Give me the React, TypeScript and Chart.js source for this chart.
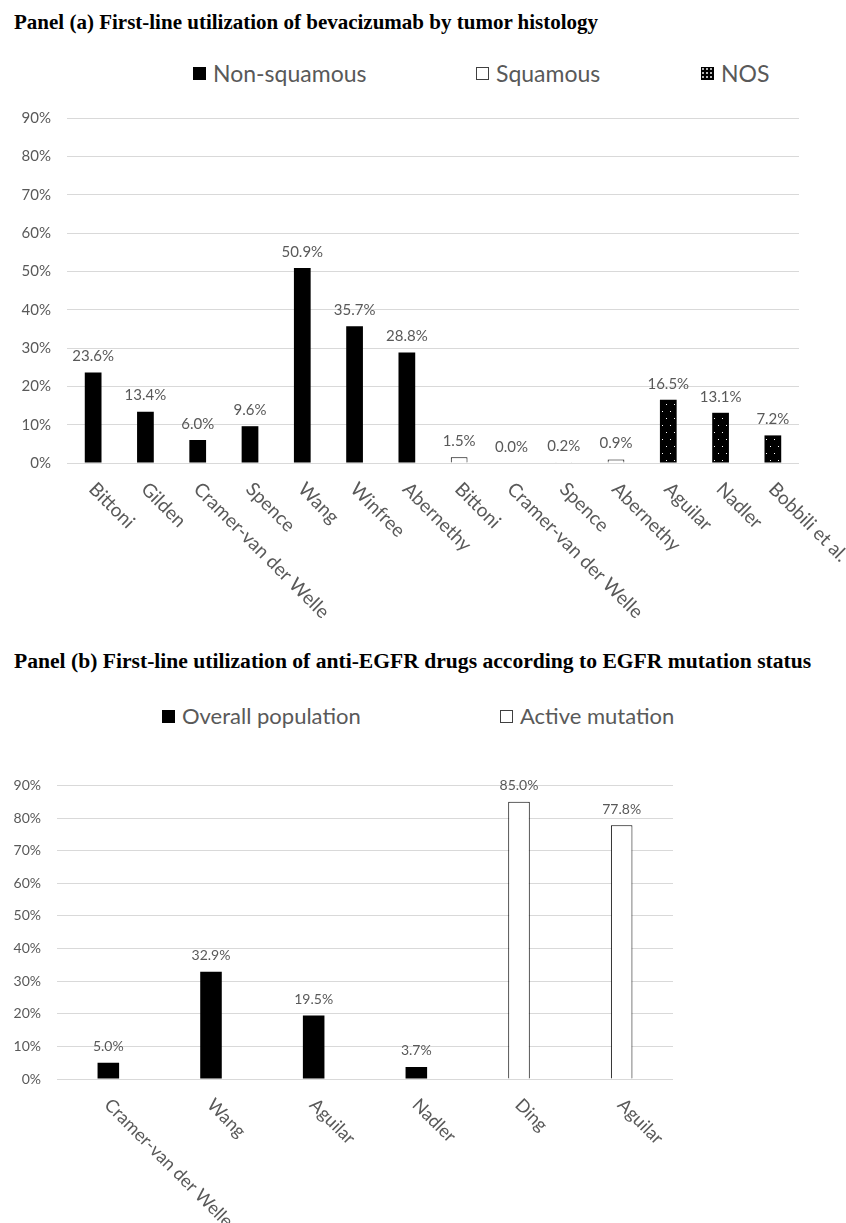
import React, { useEffect, useRef } from "react";
import { Chart, registerables } from "chart.js";
Chart.register(...registerables);

const titleA = "Panel (a) First-line utilization of bevacizumab by tumor histology";
const titleB = "Panel (b) First-line utilization of anti-EGFR drugs according to EGFR mutation status";

const aLabels = [
  "Bittoni", "Gilden", "Cramer-van der Welle", "Spence", "Wang", "Winfree", "Abernethy",
  "Bittoni", "Cramer-van der Welle", "Spence", "Abernethy",
  "Aguilar", "Nadler", "Bobbili et al.",
];
const aNonSquamous = [23.6, 13.4, 6.0, 9.6, 50.9, 35.7, 28.8, null, null, null, null, null, null, null];
const aSquamous = [null, null, null, null, null, null, null, 1.5, 0.0, 0.2, 0.9, null, null, null];
const aNOS = [null, null, null, null, null, null, null, null, null, null, null, 16.5, 13.1, 7.2];
const aLegend = ["Non-squamous", "Squamous", "NOS"];

const bLabels = ["Cramer-van der Welle", "Wang", "Aguilar", "Nadler", "Ding", "Aguilar"];
const bOverall = [5.0, 32.9, 19.5, 3.7, null, null];
const bActive = [null, null, null, null, 85.0, 77.8];
const bLegend = ["Overall population", "Active mutation"];

const yTicks = [0, 10, 20, 30, 40, 50, 60, 70, 80, 90];

const GREY = "#595959";
const FONT = "Lato, 'Open Sans', sans-serif";

function makeDotPattern(): CanvasPattern | string {
  const c = document.createElement("canvas");
  c.width = 8;
  c.height = 14;
  const g = c.getContext("2d");
  if (!g) return "#000";
  g.fillStyle = "#000";
  g.fillRect(0, 0, 8, 14);
  g.fillStyle = "#ffffff";
  g.fillRect(2, 3, 1, 1);
  g.fillRect(6, 10, 1, 1);
  const p = g.createPattern(c, "repeat");
  return p || "#000";
}

function valueLabelPlugin(size: number) {
  return {
    id: "valueLabels",
    afterDatasetsDraw(chart: any) {
      const ctx = chart.ctx;
      ctx.save();
      ctx.fillStyle = GREY;
      ctx.font = `${size}px ${FONT}`;
      ctx.textAlign = "center";
      ctx.textBaseline = "middle";
      chart.data.datasets.forEach((ds: any, i: number) => {
        const meta = chart.getDatasetMeta(i);
        meta.data.forEach((el: any, j: number) => {
          const v = ds.data[j];
          if (v === null || v === undefined) return;
          ctx.fillText(v.toFixed(1) + "%", el.x, el.y - 16);
        });
      });
      ctx.restore();
    },
  };
}

function rotatedLabelPlugin(size: number, dy: number) {
  return {
    id: "rotLabels",
    afterDraw(chart: any) {
      const ctx = chart.ctx;
      const xs = chart.scales.x;
      const y0 = chart.scales.y.getPixelForValue(0) + dy;
      ctx.save();
      ctx.fillStyle = GREY;
      ctx.font = `${size}px ${FONT}`;
      ctx.textAlign = "left";
      ctx.textBaseline = "middle";
      (chart.data.labels as string[]).forEach((lab, i) => {
        const x = xs.getPixelForValue(i);
        ctx.save();
        ctx.translate(x - 1, y0);
        ctx.rotate(Math.PI / 4);
        ctx.fillText(lab, 0, 0);
        ctx.restore();
      });
      ctx.restore();
    },
  };
}

function baseOptions(axisWidth: number, padding: any, tickSize: number) {
  return {
    responsive: false,
    animation: false as const,
    devicePixelRatio: 1,
    layout: { padding },
    plugins: { legend: { display: false }, tooltip: { enabled: false } },
    scales: {
      x: { display: false, stacked: true },
      y: {
        stacked: true,
        min: 0,
        max: 90,
        afterBuildTicks: (s: any) => {
          s.ticks = yTicks.map((v) => ({ value: v }));
        },
        afterFit: (s: any) => {
          s.width = axisWidth;
        },
        ticks: {
          color: GREY,
          font: { family: FONT, size: tickSize },
          padding: 16,
          callback: (v: any) => v + "%",
        },
        grid: { color: "#d9d9d9", lineWidth: 1, drawTicks: false },
        border: { display: false },
      },
    },
  };
}

function ChartA() {
  const ref = useRef<HTMLCanvasElement>(null);
  useEffect(() => {
    if (!ref.current) return;
    const chart = new Chart(ref.current, {
      type: "bar",
      data: {
        labels: aLabels,
        datasets: [
          { label: aLegend[0], data: aNonSquamous as any, backgroundColor: "#000", borderWidth: 0, barPercentage: 0.32, categoryPercentage: 1 },
          { label: aLegend[1], data: aSquamous as any, backgroundColor: "#fff", borderColor: "#000", borderWidth: 1, barPercentage: 0.32, categoryPercentage: 1 },
          { label: aLegend[2], data: aNOS as any, backgroundColor: makeDotPattern() as any, borderWidth: 0, barPercentage: 0.32, categoryPercentage: 1 },
        ],
      },
      options: baseOptions(67, { top: 20, bottom: 177, left: 0, right: 47 }, 15) as any,
      plugins: [valueLabelPlugin(15), rotatedLabelPlugin(19, 23)],
    });
    return () => chart.destroy();
  }, []);
  return <canvas ref={ref} width={846} height={547} style={{ position: "absolute", left: 0, top: 93, width: 846, height: 547 }} />;
}

function ChartB() {
  const ref = useRef<HTMLCanvasElement>(null);
  useEffect(() => {
    if (!ref.current) return;
    const chart = new Chart(ref.current, {
      type: "bar",
      data: {
        labels: bLabels,
        datasets: [
          { label: bLegend[0], data: bOverall as any, backgroundColor: "#000", borderWidth: 0, barPercentage: 0.21, categoryPercentage: 1 },
          { label: bLegend[1], data: bActive as any, backgroundColor: "#fff", borderColor: "#000", borderWidth: 1, barPercentage: 0.21, categoryPercentage: 1 },
        ],
      },
      options: baseOptions(57, { top: 20, bottom: 144, left: 0, right: 173 }, 14) as any,
      plugins: [valueLabelPlugin(14), rotatedLabelPlugin(18, 23)],
    });
    return () => chart.destroy();
  }, []);
  return <canvas ref={ref} width={846} height={462} style={{ position: "absolute", left: 0, top: 761, width: 846, height: 462 }} />;
}

const titleStyle: React.CSSProperties = {
  position: "absolute",
  left: 14,
  fontFamily: "'Liberation Serif', 'Times New Roman', serif",
  fontWeight: "bold",
  lineHeight: "24px",
  whiteSpace: "nowrap",
  color: "#000",
};

function LegendItem({ left, top, text, size, kind }: { left: number; top: number; text: string; size: number; kind: string }) {
  const box: React.CSSProperties = { width: 13, height: 13, boxSizing: "border-box", marginRight: 7, flex: "none" };
  if (kind === "solid") box.background = "#000";
  if (kind === "hollow") { box.background = "#fff"; box.border = "1px solid #404040"; }
  if (kind === "dots") {
    box.backgroundColor = "#000";
    box.backgroundImage = "radial-gradient(circle, #bbb 0.7px, transparent 1px)";
    box.backgroundSize = "4px 4px";
  }
  return (
    <div style={{ position: "absolute", left, top, height: 30, display: "flex", alignItems: "center", whiteSpace: "nowrap" }}>
      <div style={box} />
      <span style={{ fontFamily: FONT, fontSize: size, color: GREY, lineHeight: "30px" }}>{text}</span>
    </div>
  );
}

export default function App() {
  return (
    <div style={{ position: "absolute", left: 0, top: 0, width: 846, height: 1223, background: "#fff", overflow: "hidden" }}>
      <div style={{ ...titleStyle, top: 10, fontSize: 21 }}>{titleA}</div>
      <LegendItem left={193} top={58} text={aLegend[0]} size={23} kind="solid" />
      <LegendItem left={476} top={58} text={aLegend[1]} size={23} kind="hollow" />
      <LegendItem left={701} top={58} text={aLegend[2]} size={23} kind="dots" />
      <ChartA />
      <div style={{ ...titleStyle, top: 649, fontSize: 21.6 }}>{titleB}</div>
      <LegendItem left={162} top={701} text={bLegend[0]} size={22} kind="solid" />
      <LegendItem left={500} top={701} text={bLegend[1]} size={22} kind="hollow" />
      <ChartB />
    </div>
  );
}
